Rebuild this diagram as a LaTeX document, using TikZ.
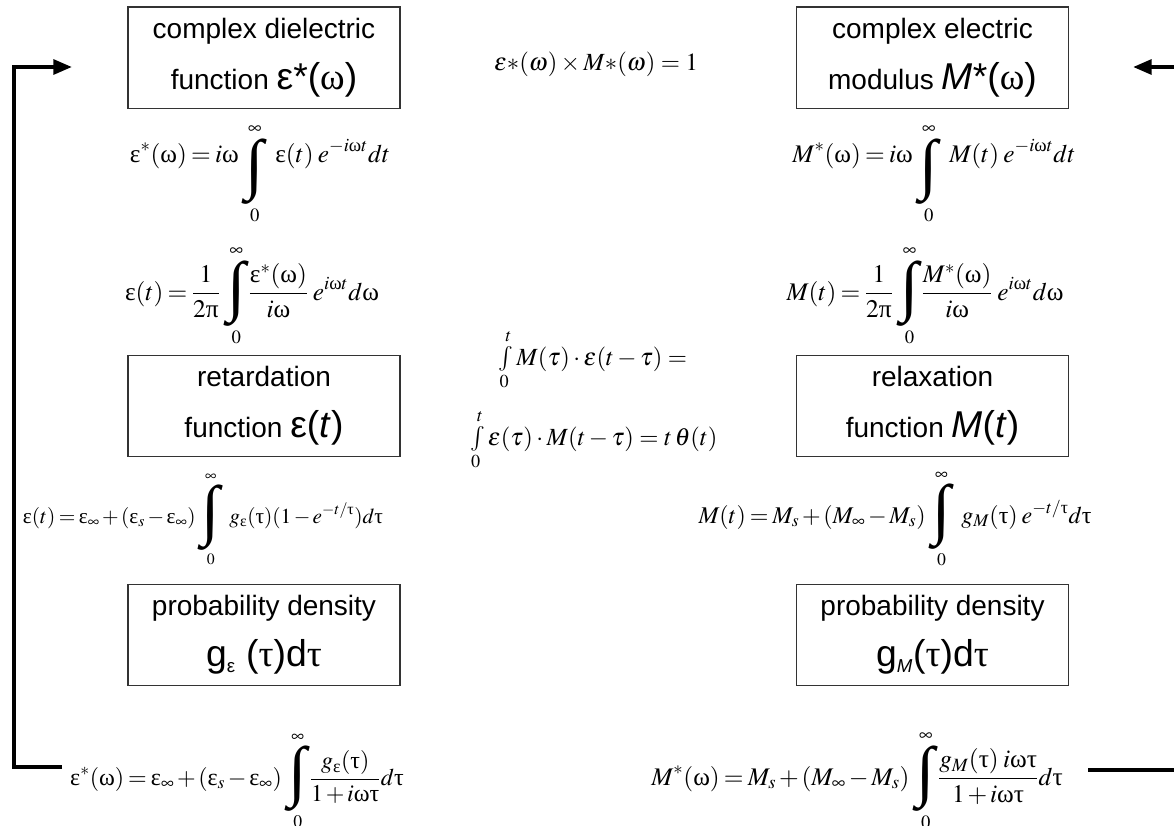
\documentclass[tikz,border=0pt]{standalone}
\usepackage{amsmath}
\usepackage{mathptmx}
\usepackage[no-math]{fontspec}
\setmainfont{Liberation Sans}
\newfontfamily\tms{Liberation Serif}
\usetikzlibrary{arrows.meta}
\newcommand\ue{\text{\tms ε}}
\newcommand\uw{\text{\tms ω}}
\newcommand\ut{\text{\tms τ}}
\newcommand\up{\text{\tms π}}
\newcommand\Int{\mkern3mu\mathop{\vcenter{\hbox{\fontsize{50}{50}\selectfont\tms ∫}}}\limits}
\newcommand\IntL{\mkern3mu\mathop{\lower12pt\hbox{$\vcenter{\hbox{\fontsize{50}{50}\selectfont\tms ∫}}$}}\limits}
\newcommand\gap{\mkern6mu}
\newcommand\bigsym[1]{{\fontsize{28}{30}\selectfont #1}}
\newcommand\tight{\thickmuskip=3mu\medmuskip=2mu}
\tikzset{
  fbox/.style={draw=black!80, line width=1pt, minimum width=204pt, minimum height=76pt,
    align=center, inner sep=0pt, font=\fontsize{21}{38}\selectfont},
  eqn/.style={anchor=base, inner sep=0pt, font=\fontsize{19}{22}\selectfont\tight},
  eqs/.style={anchor=base, inner sep=0pt, font=\fontsize{18}{22}\selectfont\tight},
  eqt/.style={anchor=base, inner sep=0pt, font=\fontsize{16}{20}\selectfont\tight},
  smeq/.style={anchor=base, inner sep=0pt, font=\fontsize{18.5}{22}\selectfont},
  conn/.style={line width=3pt, line join=miter},
  tipend/.style={-{Triangle[length=14pt,width=11pt]}}
}
\begin{document}
\begin{tikzpicture}[x=0.75pt,y=-0.75pt]
\useasboundingbox (0,0) rectangle (1174,825);
\clip (0,0) rectangle (1174,825);
% boxes
\node[fbox] (cdf) at (264,57.5) {complex dielectric\\function \bigsym{ε*({\tms ω})}};
\node[fbox] (cem) at (932.5,57.5) {complex electric\\modulus \bigsym{\textit{M}*({\tms ω})}};
\node[fbox] (ret) at (264,406) {retardation\\function \bigsym{ε(\textit{t})}};
\node[fbox] (rel) at (932.5,406) {relaxation\\function \bigsym{\textit{M}(\textit{t})}};
\node[fbox] (pde) at (264,635) {probability density\\\bigsym{g\textsubscript{\fontsize{14}{14}\selectfont ε} ({\tms τ})d{\tms τ}}};
\node[fbox] (pdm) at (932.5,635) {probability density\\\bigsym{g\textsubscript{\fontsize{14}{14}\selectfont\itshape M}({\tms τ})d{\tms τ}}};
% equations
\node[eqn] (e1) at (260,162) {$\displaystyle \ue^*(\uw)=i\uw\IntL_0^\infty\gap\ue(t)\;e^{-i\uw t}dt$};
\node[eqn] (m1) at (934,162) {$\displaystyle M^*(\uw)=i\uw\IntL_0^\infty\gap M(t)\;e^{-i\uw t}dt$};
\node[eqn] (e2) at (252,300) {$\displaystyle \ue(t)=\frac{1}{2\up}\Int_0^\infty\frac{\ue^*(\uw)}{i\uw}\;e^{i\uw t}d\uw$};
\node[eqn] (m2) at (925,300) {$\displaystyle M(t)=\frac{1}{2\up}\Int_0^\infty\frac{M^*(\uw)}{i\uw}\;e^{i\uw t}d\uw$};
\node[eqt] (e3) at (203,523) {$\displaystyle \ue(t)=\ue_\infty+(\ue_s-\ue_\infty)\Int_0^\infty\gap g_{\ue}(\ut)(1-e^{-t/\ut})d\ut$};
\node[eqs] (m3) at (895,523) {$\displaystyle M(t)=M_s+(M_\infty-M_s)\Int_0^\infty\gap g_M(\ut)\;e^{-t/\ut}d\ut$};
\node[eqs] (e4) at (237,785) {$\displaystyle \ue^*(\uw)=\ue_\infty+(\ue_s-\ue_\infty)\Int_0^\infty\frac{g_{\ue}(\ut)}{1+i\uw\ut}d\ut$};
\node[eqn] (m4) at (857,785) {$\displaystyle M^*(\uw)=M_s+(M_\infty-M_s)\Int_0^\infty\frac{g_M(\ut)\;i\uw\ut}{1+i\uw\ut}d\ut$};
\node[smeq] (rec) at (596,70) {$\varepsilon{*}(\omega)\times M{*}(\omega)=1$};
\node[smeq] (cv1) at (593,365) {$\int\limits_0^t M(\tau)\cdot\varepsilon(t-\tau)=$};
\node[smeq] (cv2) at (594,445) {$\int\limits_0^t \varepsilon(\tau)\cdot M(t-\tau)=t\,\theta(t)$};
% connectors
\coordinate (lb) at (62,767);
\coordinate (lc1) at (14,767);
\coordinate (lc2) at (14,67);
\coordinate (lt) at (72,67);
\draw[conn,tipend] (lb) -- (lc1) -- (lc2) -- (lt);
\coordinate (rb) at (1088,770);
\coordinate (rc1) at (1190,770);
\coordinate (rc2) at (1190,67);
\coordinate (rt) at (1133,67);
\draw[conn,tipend] (rb) -- (rc1) -- (rc2) -- (rt);
\end{tikzpicture}
\end{document}
